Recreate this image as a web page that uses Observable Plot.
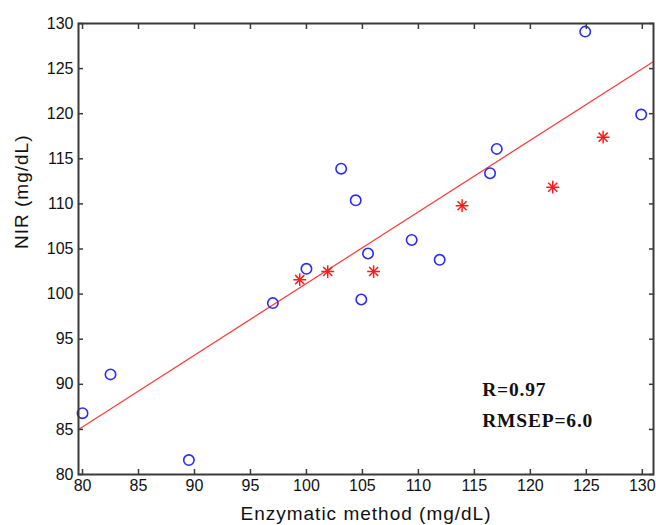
<!DOCTYPE html>
<html><head><meta charset="utf-8">
<script src="https://cdn.jsdelivr.net/npm/d3@7"></script>
<script src="https://cdn.jsdelivr.net/npm/@observablehq/plot@0.6"></script>
<style>
body{margin:0;background:#fff;}
</style>
</head><body><div id="chart"></div>
<script>
// Calibration samples (blue circles)
const calX = [80.0, 82.5, 89.5, 97.0, 100.0, 103.1, 104.4, 105.5, 104.9, 109.4, 111.9, 116.4, 117.0, 124.9, 129.9];
const calY = [86.8, 91.1, 81.6, 99.0, 102.8, 113.9, 110.4, 104.5, 99.4, 106.0, 103.8, 113.4, 116.1, 129.1, 119.9];
// Prediction samples (red stars)
const predX = [99.4, 101.9, 106.0, 113.9, 122.0, 126.5];
const predY = [101.6, 102.5, 102.5, 109.8, 111.85, 117.4];
// Regression line endpoints
const fitX = [79.64, 131.0];
const fitY = [85.0, 125.8];
const xTicks = [80, 85, 90, 95, 100, 105, 110, 115, 120, 125, 130];
const yTicks = [80, 85, 90, 95, 100, 105, 110, 115, 120, 125, 130];
const stats = ["R=0.97", "RMSEP=6.0"];
const statY = [89.4, 86.0];
const xLabel = "Enzymatic method (mg/dL)";
const yLabel = "NIR (mg/dL)";

const cal = calX.map((x, i) => ({x, y: calY[i]}));
const pred = predX.map((x, i) => ({x, y: predY[i]}));
const fit = fitX.map((x, i) => ({x, y: fitY[i]}));
const statData = stats.map((t, i) => ({t, y: statY[i]}));

const axisColor = "#3a3a3a";
const plot = Plot.plot({
  width: 656, height: 525,
  marginLeft: 78, marginTop: 23, marginRight: 3, marginBottom: 51,
  style: {fontFamily: "'Liberation Sans', Arial, sans-serif", fontSize: "16px", color: "#111", background: "#fff"},
  x: {domain: [79.64, 131], ticks: xTicks, label: null},
  y: {domain: [80, 130], ticks: yTicks, label: null},
  marks: [
    Plot.line(fit, {x: "x", y: "y", stroke: "#ff3a3a", strokeWidth: 1.2}),
    Plot.dot(cal, {x: "x", y: "y", r: 5.2, stroke: "#2a2aff", strokeWidth: 1.6, fill: "none"}),
    Plot.dot(pred, {x: "x", y: "y", symbol: "plus", r: 4.2, stroke: "#ff1a1a", strokeWidth: 1.5}),
    Plot.dot(pred, {x: "x", y: "y", symbol: "times", r: 4.2, stroke: "#ff1a1a", strokeWidth: 1.5}),
    Plot.text(statData, {x: 115.7, y: "y", text: "t", textAnchor: "start", fontFamily: "'Liberation Serif', 'Times New Roman', serif", fontWeight: "bold", fontSize: 19.5, fill: "#111"}),
    Plot.axisX({anchor: "bottom", ticks: xTicks, tickSize: -5, tickPadding: 10, stroke: axisColor, strokeWidth: 1.5, label: null, fontSize: 16}),
    Plot.axisX({anchor: "top", ticks: xTicks, tickSize: -5, tickFormat: () => "", stroke: axisColor, strokeWidth: 1.5, label: null}),
    Plot.axisY({anchor: "left", ticks: yTicks, tickSize: -5, tickPadding: 10, stroke: axisColor, strokeWidth: 1.5, label: null, fontSize: 16}),
    Plot.axisY({anchor: "right", ticks: yTicks, tickSize: -5, tickFormat: () => "", stroke: axisColor, strokeWidth: 1.5, label: null}),
    Plot.frame({stroke: axisColor, strokeWidth: 2}),
    Plot.text([xLabel], {frameAnchor: "bottom", dy: 45, fontSize: 19, fill: "#111"}),
    Plot.text([yLabel], {frameAnchor: "left", dx: -57, rotate: -90, fontSize: 19, fill: "#111"})
  ]
});
d3.select(plot).selectAll("text").each(function() {
  const t = this.textContent;
  if (t === xLabel || t === yLabel) this.setAttribute("letter-spacing", "1");
  if (stats.includes(t)) this.setAttribute("letter-spacing", "0.8");
});
document.getElementById("chart").appendChild(plot);
</script>
</body></html>
